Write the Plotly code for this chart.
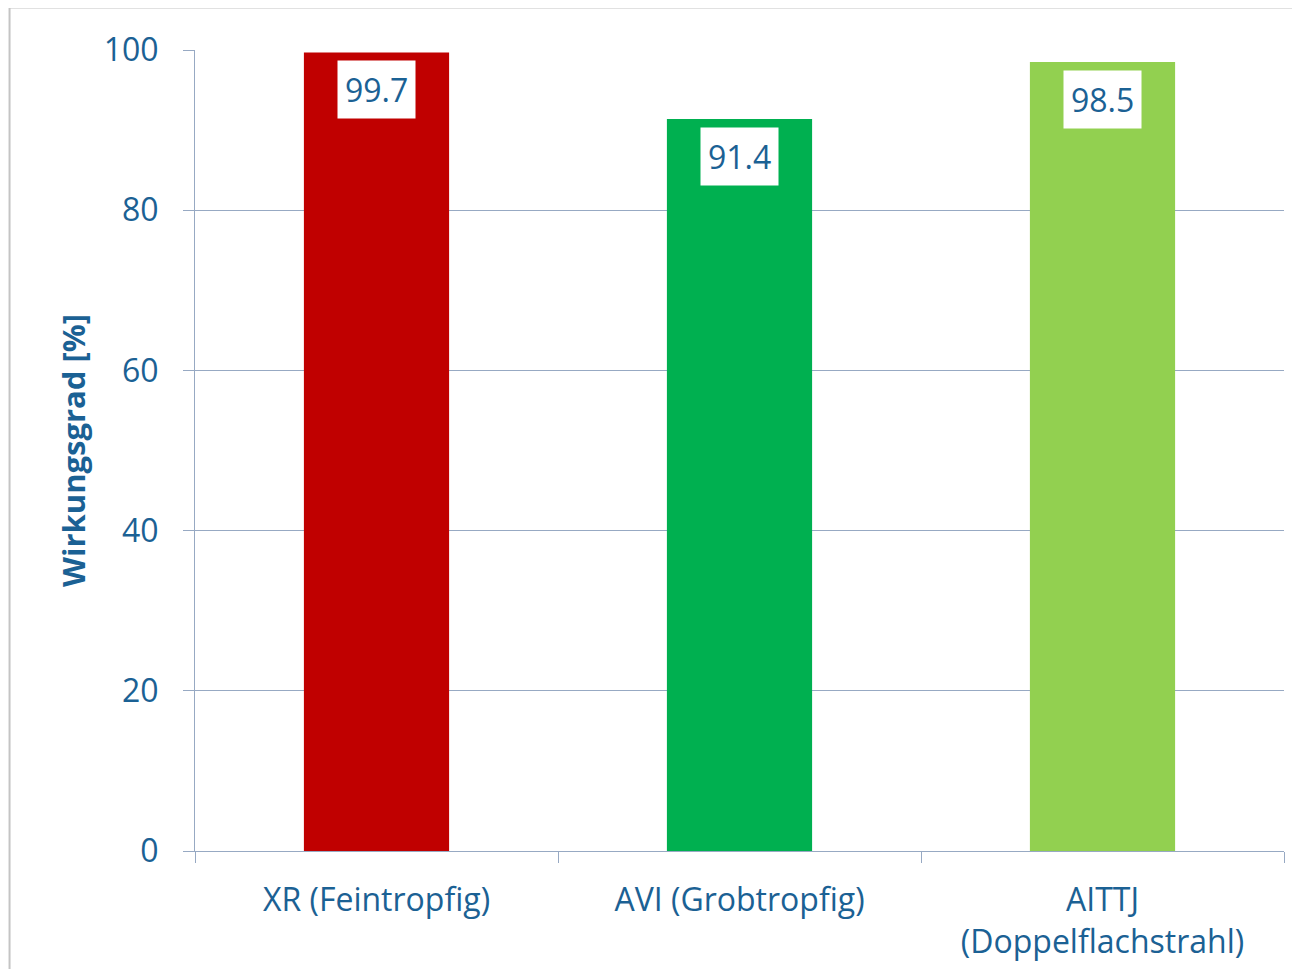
import plotly.graph_objects as go

categories = ["XR (Feintropfig)", "AVI (Grobtropfig)", "AITTJ<br>(Doppelflachstrahl)"]
values = [99.7, 91.4, 98.5]
bar_colors = ["#C00000", "#00B050", "#92D050"]
y_ticks = [0, 20, 40, 60, 80, 100]
y_title = "Wirkungsgrad [%]"

TEXT = "#1B6194"
GRID = "#97A9C3"
FONT = "Open Sans"
FS = 32

fig = go.Figure()
fig.add_trace(go.Bar(
    x=categories, y=values, marker=dict(color=bar_colors, line=dict(width=0)),
    width=0.4, hoverinfo="skip",
))

for c, v in zip(categories, values):
    fig.add_annotation(
        x=c, y=v, xref="x", yref="y", text=f"{v:.1f}", showarrow=False,
        yanchor="top", yshift=-8, bgcolor="white", borderpad=7,
        font=dict(family=FONT, size=FS, color=TEXT),
    )

# outer chart border
fig.add_shape(type="rect", xref="paper", yref="paper",
              x0=-0.1703, x1=1.2, y0=-0.3, y1=1.053,
              line=dict(color="#C4C4C4", width=2), fillcolor="rgba(0,0,0,0)", layer="below")

fig.update_layout(
    width=1300, height=969,
    margin=dict(l=187, r=24, t=42, b=126),
    paper_bgcolor="white", plot_bgcolor="white",
    showlegend=False,
    font=dict(family=FONT, size=FS, color=TEXT),
    xaxis=dict(
        range=[-0.5, 2.5], showgrid=False, showline=True, linecolor=GRID, linewidth=1,
        ticks="outside", tickson="boundaries", ticklen=11, tickcolor=GRID,
        tickfont=dict(family=FONT, size=FS, color=TEXT), ticklabelstandoff=21,
    ),
    yaxis=dict(
        range=[0, 100], tickvals=y_ticks, showgrid=True, gridcolor=GRID, gridwidth=1,
        showline=True, linecolor=GRID, linewidth=1, zeroline=False,
        ticks="outside", ticklen=11, tickcolor=GRID,
        tickfont=dict(family=FONT, size=FS, color=TEXT), ticklabelstandoff=18,
        title=dict(text=f"<b>{y_title}</b>", font=dict(family=FONT, size=31, color=TEXT), standoff=8),
    ),
)

fig.write_html("out.html")
